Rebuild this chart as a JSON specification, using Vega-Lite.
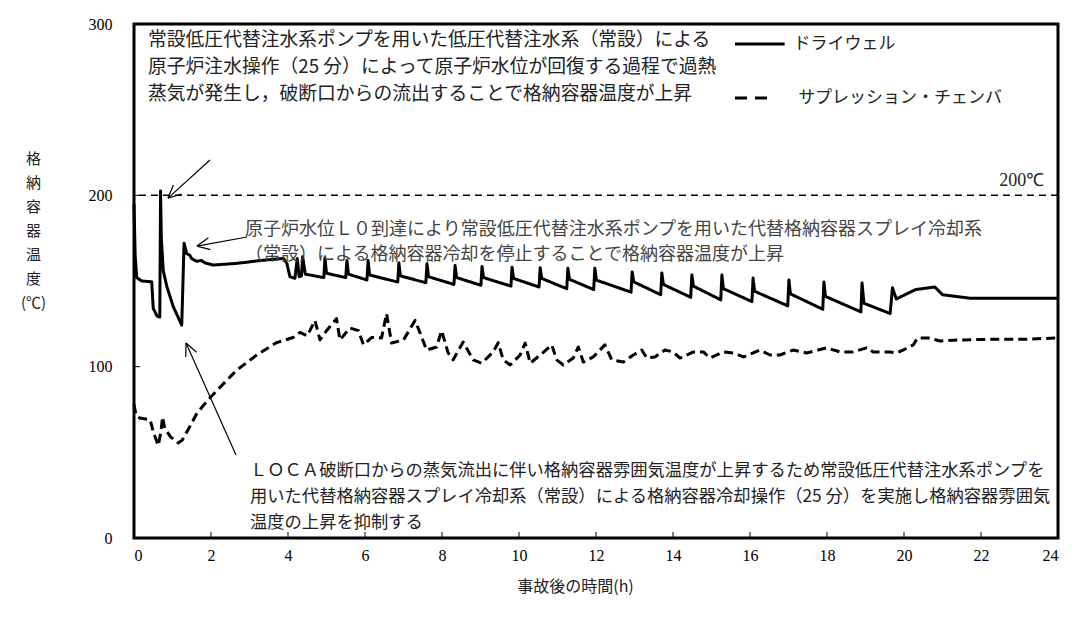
{
  "$schema": "https://vega.github.io/schema/vega-lite/v6.json",
  "width": 924,
  "height": 514,
  "autosize": {"type": "none"},
  "padding": {"left": 134, "top": 24, "right": 23, "bottom": 80},
  "background": "white",
  "config": {
    "view": {"stroke": "black", "strokeWidth": 3},
    "axis": {"grid": false, "ticks": false, "domain": false, "labelColor": "black", "titleColor": "#222", "titleFontWeight": "normal"}
  },
  "datasets": {
    "series": [
      {"t": 0, "v": 195, "series": "ドライウェル"},
      {"t": 0.03, "v": 165, "series": "ドライウェル"},
      {"t": 0.07, "v": 152, "series": "ドライウェル"},
      {"t": 0.2, "v": 150, "series": "ドライウェル"},
      {"t": 0.46, "v": 149.5, "series": "ドライウェル"},
      {"t": 0.5, "v": 134, "series": "ドライウェル"},
      {"t": 0.6, "v": 129.5, "series": "ドライウェル"},
      {"t": 0.67, "v": 129, "series": "ドライウェル"},
      {"t": 0.69, "v": 202.5, "series": "ドライウェル"},
      {"t": 0.71, "v": 175, "series": "ドライウェル"},
      {"t": 0.76, "v": 156, "series": "ドライウェル"},
      {"t": 0.85, "v": 147, "series": "ドライウェル"},
      {"t": 1.02, "v": 135, "series": "ドライウェル"},
      {"t": 1.24, "v": 124.3, "series": "ドライウェル"},
      {"t": 1.3, "v": 172, "series": "ドライウェル"},
      {"t": 1.37, "v": 166, "series": "ドライウェル"},
      {"t": 1.45, "v": 165, "series": "ドライウェル"},
      {"t": 1.5, "v": 163, "series": "ドライウェル"},
      {"t": 1.63, "v": 161.5, "series": "ドライウェル"},
      {"t": 1.75, "v": 162, "series": "ドライウェル"},
      {"t": 1.85, "v": 160.5, "series": "ドライウェル"},
      {"t": 2.06, "v": 159.3, "series": "ドライウェル"},
      {"t": 2.67, "v": 160.3, "series": "ドライウェル"},
      {"t": 3.27, "v": 161.9, "series": "ドライウェル"},
      {"t": 3.88, "v": 163.2, "series": "ドライウェル"},
      {"t": 3.97, "v": 160.3, "series": "ドライウェル"},
      {"t": 4.05, "v": 152.5, "series": "ドライウェル"},
      {"t": 4.18, "v": 151.6, "series": "ドライウェル"},
      {"t": 4.24, "v": 163.2, "series": "ドライウェル"},
      {"t": 4.29, "v": 152.5, "series": "ドライウェル"},
      {"t": 4.35, "v": 153, "series": "ドライウェル"},
      {"t": 4.38, "v": 164.2, "series": "ドライウェル"},
      {"t": 4.45, "v": 154, "series": "ドライウェル"},
      {"t": 4.93, "v": 152, "series": "ドライウェル"},
      {"t": 4.96, "v": 163.5, "series": "ドライウェル"},
      {"t": 5.0, "v": 154.5, "series": "ドライウェル"},
      {"t": 5.5, "v": 152, "series": "ドライウェル"},
      {"t": 5.53, "v": 162, "series": "ドライウェル"},
      {"t": 5.57, "v": 154, "series": "ドライウェル"},
      {"t": 6.05, "v": 150.6, "series": "ドライウェル"},
      {"t": 6.08, "v": 162, "series": "ドライウェル"},
      {"t": 6.12, "v": 153.5, "series": "ドライウェル"},
      {"t": 6.85, "v": 149.4, "series": "ドライウェル"},
      {"t": 6.88, "v": 160.5, "series": "ドライウェル"},
      {"t": 6.92, "v": 153, "series": "ドライウェル"},
      {"t": 7.58, "v": 149, "series": "ドライウェル"},
      {"t": 7.61, "v": 160, "series": "ドライウェル"},
      {"t": 7.65, "v": 152.5, "series": "ドライウェル"},
      {"t": 8.31, "v": 148, "series": "ドライウェル"},
      {"t": 8.34, "v": 159, "series": "ドライウェル"},
      {"t": 8.38, "v": 152, "series": "ドライウェル"},
      {"t": 9.01, "v": 147.5, "series": "ドライウェル"},
      {"t": 9.04, "v": 158.5, "series": "ドライウェル"},
      {"t": 9.08, "v": 152, "series": "ドライウェル"},
      {"t": 9.79, "v": 147, "series": "ドライウェル"},
      {"t": 9.82, "v": 158, "series": "ドライウェル"},
      {"t": 9.86, "v": 151.5, "series": "ドライウェル"},
      {"t": 10.52, "v": 146.5, "series": "ドライウェル"},
      {"t": 10.55, "v": 157.8, "series": "ドライウェル"},
      {"t": 10.59, "v": 151.5, "series": "ドライウェル"},
      {"t": 11.24, "v": 145.5, "series": "ドライウェル"},
      {"t": 11.27, "v": 157.5, "series": "ドライウェル"},
      {"t": 11.31, "v": 151, "series": "ドライウェル"},
      {"t": 11.94, "v": 145, "series": "ドライウェル"},
      {"t": 11.97, "v": 157.5, "series": "ドライウェル"},
      {"t": 12.01, "v": 150.5, "series": "ドライウェル"},
      {"t": 12.91, "v": 143.5, "series": "ドライウェル"},
      {"t": 12.94, "v": 155.3, "series": "ドライウェル"},
      {"t": 12.98, "v": 149.5, "series": "ドライウェル"},
      {"t": 13.68, "v": 142, "series": "ドライウェル"},
      {"t": 13.71, "v": 154.7, "series": "ドライウェル"},
      {"t": 13.75, "v": 148, "series": "ドライウェル"},
      {"t": 14.46, "v": 140.5, "series": "ドライウェル"},
      {"t": 14.49, "v": 153.5, "series": "ドライウェル"},
      {"t": 14.53, "v": 147, "series": "ドライウェル"},
      {"t": 15.24, "v": 139, "series": "ドライウェル"},
      {"t": 15.27, "v": 153.5, "series": "ドライウェル"},
      {"t": 15.31, "v": 145.5, "series": "ドライウェル"},
      {"t": 16.05, "v": 138, "series": "ドライウェル"},
      {"t": 16.08, "v": 151.8, "series": "ドライウェル"},
      {"t": 16.12, "v": 144, "series": "ドライウェル"},
      {"t": 16.98, "v": 135.5, "series": "ドライウェル"},
      {"t": 17.01, "v": 150.6, "series": "ドライウェル"},
      {"t": 17.05, "v": 142.5, "series": "ドライウェル"},
      {"t": 17.89, "v": 133.5, "series": "ドライウェル"},
      {"t": 17.92, "v": 149.4, "series": "ドライウェル"},
      {"t": 17.96, "v": 141, "series": "ドライウェル"},
      {"t": 18.88, "v": 132, "series": "ドライウェル"},
      {"t": 18.91, "v": 148.9, "series": "ドライウェル"},
      {"t": 18.96, "v": 137, "series": "ドライウェル"},
      {"t": 19.64, "v": 131, "series": "ドライウェル"},
      {"t": 19.7, "v": 146, "series": "ドライウェル"},
      {"t": 19.8, "v": 139.5, "series": "ドライウェル"},
      {"t": 20.3, "v": 145, "series": "ドライウェル"},
      {"t": 20.8, "v": 146.5, "series": "ドライウェル"},
      {"t": 21.0, "v": 142, "series": "ドライウェル"},
      {"t": 21.7, "v": 140, "series": "ドライウェル"},
      {"t": 24, "v": 140, "series": "ドライウェル"},
      {"t": 0, "v": 78, "series": "サプレッション・チェンバ"},
      {"t": 0.05, "v": 72, "series": "サプレッション・チェンバ"},
      {"t": 0.15, "v": 70, "series": "サプレッション・チェンバ"},
      {"t": 0.42, "v": 69, "series": "サプレッション・チェンバ"},
      {"t": 0.5, "v": 62, "series": "サプレッション・チェンバ"},
      {"t": 0.63, "v": 54, "series": "サプレッション・チェンバ"},
      {"t": 0.7, "v": 62, "series": "サプレッション・チェンバ"},
      {"t": 0.74, "v": 70.6, "series": "サプレッション・チェンバ"},
      {"t": 0.8, "v": 64, "series": "サプレッション・チェンバ"},
      {"t": 0.95, "v": 59, "series": "サプレッション・チェンバ"},
      {"t": 1.07, "v": 57, "series": "サプレッション・チェンバ"},
      {"t": 1.15, "v": 55.5, "series": "サプレッション・チェンバ"},
      {"t": 1.25, "v": 57, "series": "サプレッション・チェンバ"},
      {"t": 1.4, "v": 63, "series": "サプレッション・チェンバ"},
      {"t": 1.64, "v": 73, "series": "サプレッション・チェンバ"},
      {"t": 1.9, "v": 80, "series": "サプレッション・チェンバ"},
      {"t": 2.15, "v": 86, "series": "サプレッション・チェンバ"},
      {"t": 2.67, "v": 98, "series": "サプレッション・チェンバ"},
      {"t": 3.2, "v": 107, "series": "サプレッション・チェンバ"},
      {"t": 3.7, "v": 114, "series": "サプレッション・チェンバ"},
      {"t": 4.13, "v": 117, "series": "サプレッション・チェンバ"},
      {"t": 4.31, "v": 120, "series": "サプレッション・チェンバ"},
      {"t": 4.5, "v": 118, "series": "サプレッション・チェンバ"},
      {"t": 4.7, "v": 127, "series": "サプレッション・チェンバ"},
      {"t": 4.83, "v": 115.6, "series": "サプレッション・チェンバ"},
      {"t": 5.0, "v": 121, "series": "サプレッション・チェンバ"},
      {"t": 5.26, "v": 128, "series": "サプレッション・チェンバ"},
      {"t": 5.35, "v": 115.6, "series": "サプレッション・チェンバ"},
      {"t": 5.61, "v": 122.6, "series": "サプレッション・チェンバ"},
      {"t": 5.83, "v": 121, "series": "サプレッション・チェンバ"},
      {"t": 5.96, "v": 112.7, "series": "サプレッション・チェンバ"},
      {"t": 6.17, "v": 117, "series": "サプレッション・チェンバ"},
      {"t": 6.43, "v": 116.8, "series": "サプレッション・チェンバ"},
      {"t": 6.56, "v": 131, "series": "サプレッション・チェンバ"},
      {"t": 6.69, "v": 113.8, "series": "サプレッション・チェンバ"},
      {"t": 7.0, "v": 115.6, "series": "サプレッション・チェンバ"},
      {"t": 7.3, "v": 127, "series": "サプレッション・チェンバ"},
      {"t": 7.43, "v": 119.7, "series": "サプレッション・チェンバ"},
      {"t": 7.6, "v": 109.7, "series": "サプレッション・チェンバ"},
      {"t": 7.86, "v": 111.5, "series": "サプレッション・チェンバ"},
      {"t": 7.99, "v": 121, "series": "サプレッション・チェンバ"},
      {"t": 8.16, "v": 108, "series": "サプレッション・チェンバ"},
      {"t": 8.29, "v": 104, "series": "サプレッション・チェンバ"},
      {"t": 8.55, "v": 114.4, "series": "サプレッション・チェンバ"},
      {"t": 8.81, "v": 104, "series": "サプレッション・チェンバ"},
      {"t": 9.03, "v": 102, "series": "サプレッション・チェンバ"},
      {"t": 9.33, "v": 108.6, "series": "サプレッション・チェンバ"},
      {"t": 9.46, "v": 114, "series": "サプレッション・チェンバ"},
      {"t": 9.59, "v": 104, "series": "サプレッション・チェンバ"},
      {"t": 9.77, "v": 101, "series": "サプレッション・チェンバ"},
      {"t": 10.03, "v": 106.8, "series": "サプレッション・チェンバ"},
      {"t": 10.16, "v": 113.8, "series": "サプレッション・チェンバ"},
      {"t": 10.29, "v": 102, "series": "サプレッション・チェンバ"},
      {"t": 10.55, "v": 106.8, "series": "サプレッション・チェンバ"},
      {"t": 10.85, "v": 112.7, "series": "サプレッション・チェンバ"},
      {"t": 10.98, "v": 104, "series": "サプレッション・チェンバ"},
      {"t": 11.15, "v": 101, "series": "サプレッション・チェンバ"},
      {"t": 11.41, "v": 105, "series": "サプレッション・チェンバ"},
      {"t": 11.54, "v": 111.5, "series": "サプレッション・チェンバ"},
      {"t": 11.67, "v": 102.7, "series": "サプレッション・チェンバ"},
      {"t": 11.93, "v": 105.7, "series": "サプレッション・チェンバ"},
      {"t": 12.23, "v": 112.7, "series": "サプレッション・チェンバ"},
      {"t": 12.41, "v": 104, "series": "サプレッション・チェンバ"},
      {"t": 12.71, "v": 102.7, "series": "サプレッション・チェンバ"},
      {"t": 12.97, "v": 106.8, "series": "サプレッション・チェンバ"},
      {"t": 13.19, "v": 109.7, "series": "サプレッション・チェンバ"},
      {"t": 13.32, "v": 105, "series": "サプレッション・チェンバ"},
      {"t": 13.53, "v": 105.7, "series": "サプレッション・チェンバ"},
      {"t": 13.79, "v": 109.7, "series": "サプレッション・チェンバ"},
      {"t": 14.01, "v": 108.6, "series": "サプレッション・チェンバ"},
      {"t": 14.18, "v": 105, "series": "サプレッション・チェンバ"},
      {"t": 14.53, "v": 108.6, "series": "サプレッション・チェンバ"},
      {"t": 14.79, "v": 108.6, "series": "サプレッション・チェンバ"},
      {"t": 14.96, "v": 105, "series": "サプレッション・チェンバ"},
      {"t": 15.31, "v": 108.6, "series": "サプレッション・チェンバ"},
      {"t": 15.57, "v": 108, "series": "サプレッション・チェンバ"},
      {"t": 15.83, "v": 105.7, "series": "サプレッション・チェンバ"},
      {"t": 16.26, "v": 109.7, "series": "サプレッション・チェンバ"},
      {"t": 16.52, "v": 106.8, "series": "サプレッション・チェンバ"},
      {"t": 16.78, "v": 106.8, "series": "サプレッション・チェンバ"},
      {"t": 17.12, "v": 109.7, "series": "サプレッション・チェンバ"},
      {"t": 17.47, "v": 108, "series": "サプレッション・チェンバ"},
      {"t": 17.99, "v": 111, "series": "サプレッション・チェンバ"},
      {"t": 18.34, "v": 108.6, "series": "サプレッション・チェンバ"},
      {"t": 18.68, "v": 108.6, "series": "サプレッション・チェンバ"},
      {"t": 19.03, "v": 111, "series": "サプレッション・チェンバ"},
      {"t": 19.2, "v": 108.6, "series": "サプレッション・チェンバ"},
      {"t": 19.64, "v": 108.6, "series": "サプレッション・チェンバ"},
      {"t": 19.81, "v": 108, "series": "サプレッション・チェンバ"},
      {"t": 20.03, "v": 110.3, "series": "サプレッション・チェンバ"},
      {"t": 20.24, "v": 112.7, "series": "サプレッション・チェンバ"},
      {"t": 20.35, "v": 116.8, "series": "サプレッション・チェンバ"},
      {"t": 20.63, "v": 116.8, "series": "サプレッション・チェンバ"},
      {"t": 20.94, "v": 115, "series": "サプレッション・チェンバ"},
      {"t": 21.45, "v": 115.6, "series": "サプレッション・チェンバ"},
      {"t": 22.32, "v": 116, "series": "サプレッション・チェンバ"},
      {"t": 23.19, "v": 116, "series": "サプレッション・チェンバ"},
      {"t": 24, "v": 116.8, "series": "サプレッション・チェンバ"}
    ],
    "legendLines": [
      {"series": "ドライウェル", "t": 15.61, "t2": 16.9, "v": 288.3},
      {"series": "サプレッション・チェンバ", "t": 15.61, "t2": 16.6, "v": 256.8}
    ],
    "legendText": [
      {"text": "ドライウェル", "t": 17.13, "v": 288.3},
      {"text": "サプレッション・チェンバ", "t": 17.25, "v": 256.8}
    ],
    "notes": [
      {"group": "top", "t": 0.364, "v": 290.7, "text": "常設低圧代替注水系ポンプを用いた低圧代替注水系（常設）による"},
      {"group": "top", "t": 0.364, "v": 274.9, "text": "原子炉注水操作（25 分）によって原子炉水位が回復する過程で過熱"},
      {"group": "top", "t": 0.364, "v": 259.1, "text": "蒸気が発生し，破断口からの流出することで格納容器温度が上昇"},
      {"group": "mid", "t": 2.883, "v": 179.8, "text": "原子炉水位Ｌ０到達により常設低圧代替注水系ポンプを用いた代替格納容器スプレイ冷却系"},
      {"group": "mid", "t": 2.883, "v": 165.2, "text": "（常設）による格納容器冷却を停止することで格納容器温度が上昇"},
      {"group": "bottom", "t": 3.013, "v": 39.1, "text": "ＬＯＣＡ破断口からの蒸気流出に伴い格納容器雰囲気温度が上昇するため常設低圧代替注水系ポンプを"},
      {"group": "bottom", "t": 3.013, "v": 23.9, "text": "用いた代替格納容器スプレイ冷却系（常設）による格納容器冷却操作（25 分）を実施し格納容器雰囲気"},
      {"group": "bottom", "t": 3.013, "v": 8.75, "text": "温度の上昇を抑制する"}
    ],
    "limitLabel": [
      {"text": "200℃", "t": 23.64, "v": 208.4}
    ],
    "arrows": [
      {"t": 1.974, "v": 220.6, "t2": 0.883, "v2": 198.4},
      {"t": 0.883, "v": 198.4, "t2": 1.231, "v2": 200.8},
      {"t": 0.883, "v": 198.4, "t2": 1.023, "v2": 206.0},
      {"t": 2.935, "v": 175.7, "t2": 1.636, "v2": 170.4},
      {"t": 1.636, "v": 170.4, "t2": 1.987, "v2": 168.3},
      {"t": 1.636, "v": 170.4, "t2": 1.932, "v2": 175.2},
      {"t": 2.649, "v": 48.4, "t2": 1.351, "v2": 113.8},
      {"t": 1.351, "v": 113.8, "t2": 1.345, "v2": 105.6},
      {"t": 1.351, "v": 113.8, "t2": 1.626, "v2": 108.4}
    ],
    "ticks": [
      {"t": 0, "t2": 0.16, "v": 100, "v2": 100},
      {"t": 0, "t2": 0.16, "v": 200, "v2": 200},
      {"t": 2, "t2": 2, "v": 0, "v2": 3.5},
      {"t": 4, "t2": 4, "v": 0, "v2": 3.5},
      {"t": 6, "t2": 6, "v": 0, "v2": 3.5},
      {"t": 8, "t2": 8, "v": 0, "v2": 3.5},
      {"t": 10, "t2": 10, "v": 0, "v2": 3.5},
      {"t": 12, "t2": 12, "v": 0, "v2": 3.5},
      {"t": 14, "t2": 14, "v": 0, "v2": 3.5},
      {"t": 16, "t2": 16, "v": 0, "v2": 3.5},
      {"t": 18, "t2": 18, "v": 0, "v2": 3.5},
      {"t": 20, "t2": 20, "v": 0, "v2": 3.5},
      {"t": 22, "t2": 22, "v": 0, "v2": 3.5}
    ]
  },
  "layer": [
    {
      "data": {"values": [{"v": 200}]},
      "mark": {"type": "rule", "color": "black", "strokeWidth": 1.5, "strokeDash": [7, 5]},
      "encoding": {
        "y": {"field": "v", "type": "quantitative", "scale": {"domain": [0, 300], "nice": false},
          "axis": {"values": [0, 100, 200, 300], "labelFont": "Liberation Serif", "labelFontSize": 16, "labelPadding": 22,
            "title": ["格", "納", "容", "器", "温", "度", " ", " ", "(℃)"],
            "titleFont": "Noto Sans CJK JP", "titleFontSize": 15, "titleAngle": 0, "titleAlign": "center",
            "titleBaseline": "top", "titleX": -101, "titleY": 127, "titleLineHeight": 24}}
      }
    },
    {
      "data": {"name": "series"},
      "mark": {"type": "line", "color": "black", "strokeWidth": 3, "strokeJoin": "round"},
      "encoding": {
        "x": {"field": "t", "type": "quantitative", "scale": {"domain": [0, 24], "nice": false},
          "axis": {"values": [0, 2, 4, 6, 8, 10, 12, 14, 16, 18, 20, 22, 24], "labelFont": "Liberation Serif", "labelFontSize": 16, "labelPadding": 9,
            "title": "事故後の時間(h)", "titleFont": "Noto Sans CJK JP", "titleFontSize": 16,
            "titleX": 441, "titleY": 48, "titleBaseline": "middle", "titleAlign": "center"}},
        "y": {"field": "v", "type": "quantitative"},
        "detail": {"field": "series"},
        "strokeDash": {"field": "series", "type": "nominal",
          "scale": {"domain": ["ドライウェル", "サプレッション・チェンバ"], "range": [[1, 0], [9, 5]]}, "legend": null}
      }
    },
    {
      "data": {"name": "legendLines"},
      "transform": [{"filter": "datum.series === 'ドライウェル'"}],
      "mark": {"type": "rule", "color": "black", "strokeWidth": 3},
      "encoding": {"x": {"field": "t", "type": "quantitative"}, "x2": {"field": "t2"}, "y": {"field": "v", "type": "quantitative"}}
    },
    {
      "data": {"name": "legendLines"},
      "transform": [{"filter": "datum.series !== 'ドライウェル'"}],
      "mark": {"type": "rule", "color": "black", "strokeWidth": 3, "strokeDash": [12, 8]},
      "encoding": {"x": {"field": "t", "type": "quantitative"}, "x2": {"field": "t2"}, "y": {"field": "v", "type": "quantitative"}}
    },
    {
      "data": {"name": "legendText"},
      "mark": {"type": "text", "align": "left", "baseline": "middle", "font": "Noto Sans CJK JP", "fontSize": 17, "color": "#222"},
      "encoding": {"x": {"field": "t", "type": "quantitative"}, "y": {"field": "v", "type": "quantitative"}, "text": {"field": "text"}}
    },
    {
      "data": {"name": "notes"},
      "transform": [{"filter": "datum.group === 'top'"}],
      "mark": {"type": "text", "align": "left", "baseline": "middle", "font": "Noto Sans CJK JP", "fontSize": 18.8, "color": "#222"},
      "encoding": {"x": {"field": "t", "type": "quantitative"}, "y": {"field": "v", "type": "quantitative"}, "text": {"field": "text"}}
    },
    {
      "data": {"name": "notes"},
      "transform": [{"filter": "datum.group === 'mid'"}],
      "mark": {"type": "text", "align": "left", "baseline": "middle", "font": "Noto Sans CJK JP", "fontSize": 18, "color": "#444"},
      "encoding": {"x": {"field": "t", "type": "quantitative"}, "y": {"field": "v", "type": "quantitative"}, "text": {"field": "text"}}
    },
    {
      "data": {"name": "notes"},
      "transform": [{"filter": "datum.group === 'bottom'"}],
      "mark": {"type": "text", "align": "left", "baseline": "middle", "font": "Noto Sans CJK JP", "fontSize": 17.3, "color": "#222"},
      "encoding": {"x": {"field": "t", "type": "quantitative"}, "y": {"field": "v", "type": "quantitative"}, "text": {"field": "text"}}
    },
    {
      "data": {"name": "limitLabel"},
      "mark": {"type": "text", "align": "right", "baseline": "middle", "font": "Liberation Serif", "fontSize": 18, "color": "#222"},
      "encoding": {"x": {"field": "t", "type": "quantitative"}, "y": {"field": "v", "type": "quantitative"}, "text": {"field": "text"}}
    },
    {
      "data": {"name": "arrows"},
      "mark": {"type": "rule", "color": "black", "strokeWidth": 1.2},
      "encoding": {"x": {"field": "t", "type": "quantitative"}, "x2": {"field": "t2"}, "y": {"field": "v", "type": "quantitative"}, "y2": {"field": "v2"}}
    },
    {
      "data": {"name": "ticks"},
      "mark": {"type": "rule", "color": "black", "strokeWidth": 1},
      "encoding": {"x": {"field": "t", "type": "quantitative"}, "x2": {"field": "t2"}, "y": {"field": "v", "type": "quantitative"}, "y2": {"field": "v2"}}
    }
  ]
}
